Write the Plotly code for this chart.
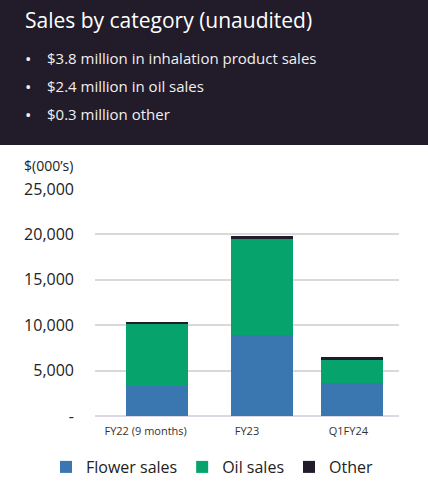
import plotly.graph_objects as go

categories = ["FY22 (9 months)", "FY23", "Q1FY24"]
flower_sales = [3300, 8900, 3650]
oil_sales = [6900, 10600, 2500]
other_sales = [200, 350, 330]
y_ticks = [0, 5000, 10000, 15000, 20000, 25000]
y_tick_labels = ["-", "5,000", "10,000", "15,000", "20,000", "25,000"]
bullets = ["$3.8 million in inhalation product sales",
           "$2.4 million in oil sales",
           "$0.3 million other"]

W, H = 428, 483
L, R, T, B = 95, 29, 189, 67
PW, PH = W - L - R, H - T - B


def px(x):
    return (x - L) / PW


def py(y):
    return (H - B - y) / PH


FONT = "Open Sans"
BLUE, GREEN, DARK = "#3a76b0", "#06a36c", "#211b2a"

fig = go.Figure()
offs = [-0.19, -0.16, -0.27]
for name, vals, col in [("Flower sales", flower_sales, BLUE),
                        ("Oil sales", oil_sales, GREEN),
                        ("Other", other_sales, DARK)]:
    fig.add_trace(go.Bar(x=categories, y=vals, name=name, marker_color=col,
                         marker_line_width=0, width=0.61, offset=offs))

fig.update_layout(
    width=W, height=H, barmode="stack",
    margin=dict(l=L, r=R, t=T, b=B, autoexpand=False),
    paper_bgcolor="white", plot_bgcolor="white",
    font=dict(family=FONT, color="#222222"),
    xaxis=dict(tickfont=dict(size=11, color="#333333"), showline=False,
               ticks="", showgrid=False, automargin=False,
               ticklabelstandoff=7),
    yaxis=dict(range=[0, 25000], tickvals=y_ticks, ticktext=y_tick_labels,
               tickfont=dict(size=16, color="#222222"), showgrid=True,
               gridcolor="#d9d9d9", gridwidth=1.5, zeroline=True,
               zerolinecolor="#ddd8e6", zerolinewidth=2, ticks="",
               ticklabelstandoff=20, automargin=False),
    showlegend=True,
    legend=dict(orientation="h", x=px(46), xanchor="left", y=py(467),
                yanchor="middle", font=dict(size=16, color="#222222"),
                traceorder="normal", itemwidth=30, entrywidth=0),
    bargap=0.39,
)

shapes = [dict(type="rect", xref="paper", yref="paper", x0=px(0), x1=px(W),
               y0=py(145), y1=py(0), fillcolor=DARK, line_width=0, layer="below")]
fig.update_layout(shapes=shapes)

ann = [dict(text="Sales by category (unaudited)", x=px(23), y=py(20),
            font=dict(size=21, color="white"))]
for i, b in enumerate(bullets):
    yy = 58 + 28 * i
    ann.append(dict(text="•", x=px(23), y=py(yy), font=dict(size=17, color="#f0f0f0")))
    ann.append(dict(text=b, x=px(45), y=py(yy), font=dict(size=15, color="#f0f0f0")))
ann.append(dict(text="$(000’s)", x=px(22), y=py(165), font=dict(size=14, color="#222222")))
for a in ann:
    a.update(xref="paper", yref="paper", xanchor="left", yanchor="middle",
             showarrow=False)
fig.update_layout(annotations=ann)

fig.write_html("out.html")
